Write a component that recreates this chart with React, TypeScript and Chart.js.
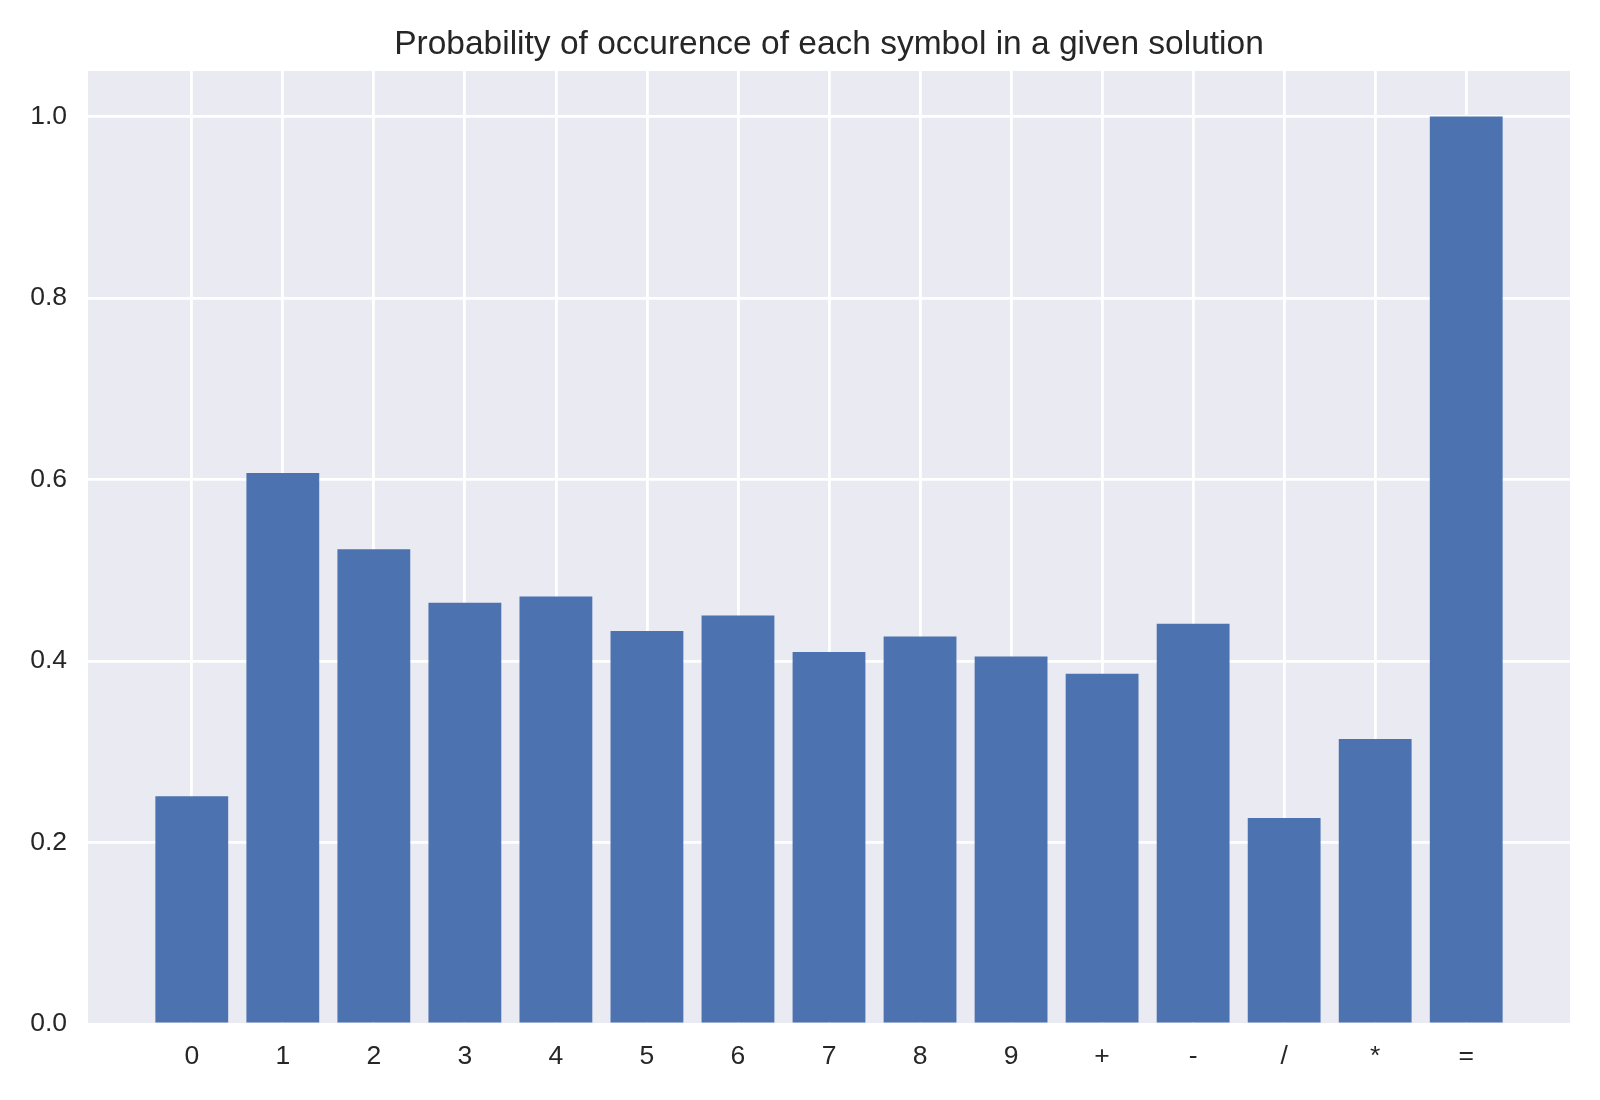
import React, { useEffect, useRef } from "react";
import { Chart, registerables } from "chart.js";

Chart.register(...registerables);

const categories = ["0", "1", "2", "3", "4", "5", "6", "7", "8", "9", "+", "-", "/", "*", "="];
const probabilities = [0.251, 0.607, 0.523, 0.464, 0.471, 0.433, 0.450, 0.410, 0.427, 0.405, 0.386, 0.441, 0.227, 0.314, 1.0];
const yTicks = [0, 0.2, 0.4, 0.6, 0.8, 1.0];
const titleText = "Probability of occurence of each symbol in a given solution";

const FONT = "'Liberation Sans', Arial, sans-serif";

export default function App() {
  const ref = useRef<HTMLCanvasElement | null>(null);

  useEffect(() => {
    document.body.style.margin = "0";
    const canvas = ref.current;
    if (!canvas) return;

    const bgPlugin = {
      id: "axesBg",
      beforeDraw(chart: any) {
        const { ctx, chartArea } = chart;
        ctx.save();
        ctx.fillStyle = "#EAEAF2";
        ctx.fillRect(chartArea.left, chartArea.top, chartArea.right - chartArea.left, chartArea.bottom - chartArea.top);
        ctx.restore();
      },
      afterDraw(chart: any) {
        const { ctx, chartArea } = chart;
        ctx.save();
        ctx.fillStyle = "#262626";
        ctx.font = `33.5px ${FONT}`;
        ctx.textAlign = "center";
        ctx.textBaseline = "alphabetic";
        ctx.fillText(titleText, (chartArea.left + chartArea.right) / 2, 54);
        ctx.restore();
      },
    };

    const chart = new Chart(canvas, {
      type: "bar",
      data: {
        datasets: [
          {
            data: probabilities.map((v, i) => ({ x: i, y: v })),
            backgroundColor: "#4C72B0",
            borderWidth: 0,
            barPercentage: 0.8,
            categoryPercentage: 1.0,
          },
        ],
      },
      options: {
        animation: false,
        responsive: false,
        maintainAspectRatio: false,
        layout: { padding: { top: 71, right: 30, left: 0, bottom: 0 } },
        plugins: {
          legend: { display: false },
          tooltip: { enabled: false },
          title: { display: false },
        },
        scales: {
          x: {
            type: "linear",
            min: -1.14,
            max: 15.14,
            offset: false,
            border: { display: false },
            grid: { color: "#FFFFFF", lineWidth: 2.8, drawTicks: false, offset: false },
            afterBuildTicks: (scale: any) => {
              scale.ticks = categories.map((_, i) => ({ value: i }));
            },
            afterFit: (scale: any) => {
              scale.height = 76;
            },
            ticks: {
              autoSkip: false,
              maxRotation: 0,
              padding: 17,
              color: "#262626",
              font: { family: FONT, size: 26.5 },
              callback: (v: any) => categories[Math.round(Number(v))] ?? "",
            },
          },
          y: {
            type: "linear",
            min: 0,
            max: 1.05,
            border: { display: false },
            grid: { color: "#FFFFFF", lineWidth: 2.8, drawTicks: false },
            afterBuildTicks: (scale: any) => {
              scale.ticks = yTicks.map((v) => ({ value: v }));
            },
            afterFit: (scale: any) => {
              scale.width = 88;
            },
            ticks: {
              padding: 21,
              color: "#262626",
              font: { family: FONT, size: 26.5 },
              callback: (v: any) => Number(v).toFixed(1),
            },
          },
        },
      },
      plugins: [bgPlugin],
    } as any);

    return () => chart.destroy();
  }, []);

  return (
    <div style={{ width: 1600, height: 1100, background: "#FFFFFF" }}>
      <canvas ref={ref} width={1600} height={1100} style={{ width: 1600, height: 1100, display: "block" }} />
    </div>
  );
}
